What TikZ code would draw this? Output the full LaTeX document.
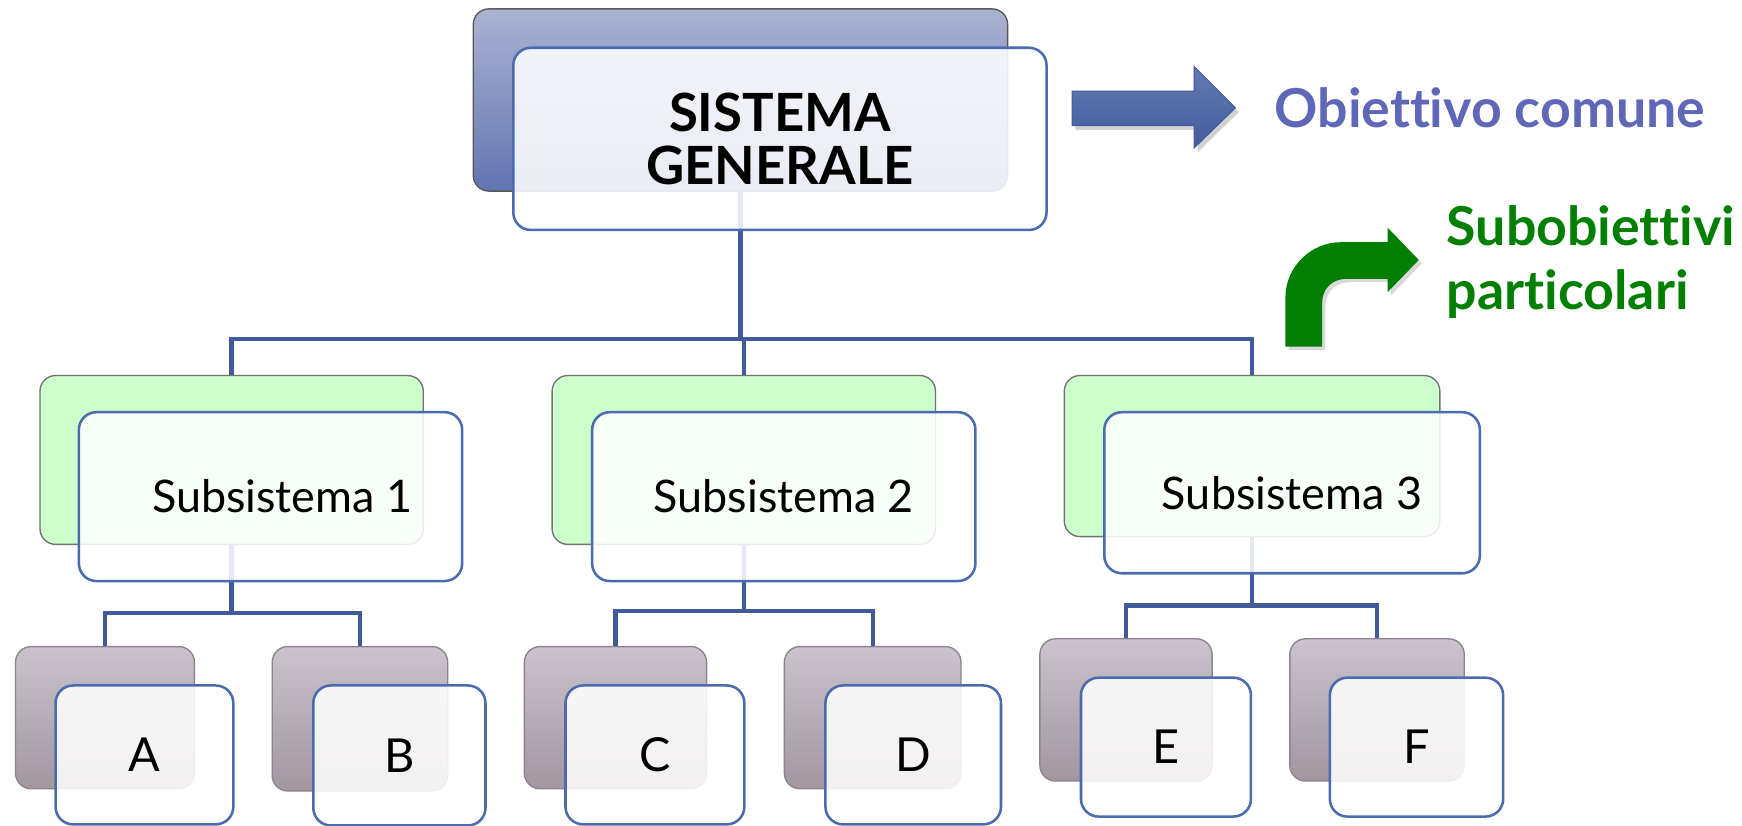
\documentclass[tikz,border=0pt]{standalone}
\usepackage{fontspec}
\setmainfont{Lato}[Ligatures=CommonOff]
\usetikzlibrary{shadows,calc}
\definecolor{connC}{HTML}{3F5B9B}
\definecolor{frontC}{HTML}{4A6BB0}
\definecolor{topA}{HTML}{ABB3D1}
\definecolor{topB}{HTML}{6373B2}
\definecolor{leafA}{HTML}{CAC3CC}
\definecolor{leafB}{HTML}{A2969F}
\definecolor{leafD}{HTML}{8E8293}
\definecolor{subG}{HTML}{CCFFCC}
\definecolor{objC}{HTML}{5F68B8}
\definecolor{greenC}{HTML}{007F00}
\definecolor{arrA}{HTML}{6479B4}
\definecolor{arrB}{HTML}{435C9C}
\begin{document}
\begin{tikzpicture}[x=0.02cm,y=-0.02cm,
  conn/.style={draw=connC,line width=2.2pt},
  backbox/.style={rounded corners=8pt,inner sep=0pt,line width=0.7pt},
  topback/.style={backbox,draw=black!65,top color=topA,bottom color=topB},
  subback/.style={backbox,draw=black!55,fill=subG},
  leafback/.style={backbox,draw=leafD,top color=leafA,bottom color=leafB},
  frontbox/.style={rounded corners=9pt,inner sep=0pt,draw=frontC,line width=1.3pt,fill=white,fill opacity=0.87,text opacity=1},
  sublabel/.style={font=\fontsize{23}{27}\selectfont},
  leaflabel/.style={font=\fontsize{24}{28}\selectfont}]
\useasboundingbox (0,0) rectangle (1568,743);

% back boxes
\node[topback,minimum width={481*0.02cm},minimum height={164*0.02cm}] (tB) at (666.5,90) {};
\node[subback,minimum width={345*0.02cm},minimum height={152*0.02cm}] (s1B) at (208.5,414) {};
\node[subback,minimum width={345*0.02cm},minimum height={152*0.02cm}] (s2B) at (669.5,414) {};
\node[subback,minimum width={338*0.02cm},minimum height={145*0.02cm}] (s3B) at (1127,410.5) {};
\node[leafback,minimum width={161*0.02cm},minimum height={128*0.02cm}] (aB) at (94.5,646) {};
\node[leafback,minimum width={158*0.02cm},minimum height={130*0.02cm}] (bB) at (324,647) {};
\node[leafback,minimum width={164*0.02cm},minimum height={128*0.02cm}] (cB) at (554,646) {};
\node[leafback,minimum width={159*0.02cm},minimum height={128*0.02cm}] (dB) at (785.5,646) {};
\node[leafback,minimum width={155*0.02cm},minimum height={128*0.02cm}] (eB) at (1013.5,639) {};
\node[leafback,minimum width={157*0.02cm},minimum height={128*0.02cm}] (fB) at (1239.5,639) {};

% connectors
\coordinate (bus0) at (666.5,305);
\coordinate (bus1) at (208.5,552);
\coordinate (bus2) at (669.5,550);
\coordinate (bus3) at (1127,545);
\draw[conn] (tB.south) -- (bus0);
\draw[conn] (s1B.north) |- (bus0) -| (s3B.north);
\draw[conn] (s2B.north) -- (s2B.north |- bus0);
\draw[conn] (s1B.south) -- (bus1);
\draw[conn] (aB.north) |- (bus1) -| (bB.north);
\draw[conn] (s2B.south) -- (bus2);
\draw[conn] (cB.north) |- (bus2) -| (dB.north);
\draw[conn] (s3B.south) -- (bus3);
\draw[conn] (eB.north) |- (bus3) -| (fB.north);

% front boxes
\node[frontbox,minimum width={480*0.02cm},minimum height={164*0.02cm},align=center,
      font=\fontsize{27}{27}\selectfont\bfseries] (tF) at (702,125) {SISTEMA\\GENERALE};
\node[frontbox,minimum width={345*0.02cm},minimum height={152*0.02cm}] (s1F) at (243.5,447) {};
\node[sublabel] (s1T) at (254,447) {Subsistema 1};
\node[frontbox,sublabel,minimum width={345*0.02cm},minimum height={152*0.02cm}] (s2F) at (705.5,447) {Subsistema 2};
\node[frontbox,sublabel,minimum width={338*0.02cm},minimum height={145*0.02cm}] (s3F) at (1163,443.5) {Subsistema 3};
\node[frontbox,leaflabel,minimum width={160*0.02cm},minimum height={125*0.02cm}] (aF) at (130,679.5) {A};
\node[frontbox,leaflabel,minimum width={155*0.02cm},minimum height={126*0.02cm}] (bF) at (359.5,680) {B};
\node[frontbox,leaflabel,minimum width={161*0.02cm},minimum height={125*0.02cm}] (cF) at (589.5,679.5) {C};
\node[frontbox,leaflabel,minimum width={158*0.02cm},minimum height={125*0.02cm}] (dF) at (822,679.5) {D};
\node[frontbox,leaflabel,minimum width={153*0.02cm},minimum height={125*0.02cm}] (eF) at (1049.5,672.5) {E};
\node[frontbox,leaflabel,minimum width={156*0.02cm},minimum height={125*0.02cm}] (fF) at (1275,672.5) {F};

% blue arrow
\fill[black,opacity=0.18] (968,86) -- (1078,86) -- (1078,64) -- (1115,101) -- (1078,137) -- (1078,117) -- (968,117) -- cycle;
\draw[draw=arrB,line width=0.6pt,top color=arrA,bottom color=arrB]
  (965,82) -- (1075,82) -- (1075,60) -- (1112,97) -- (1075,133) -- (1075,113) -- (965,113) -- cycle;
\node[anchor=west,text=objC,font=\fontsize{27.5}{30}\selectfont\bfseries] (obj) at (1141,97) {Obiettivo comune};

% green bent arrow
\fill[black,opacity=0.15] (1160,315) -- (1160,271) .. controls (1160,243) and (1183,221) .. (1210,221) -- (1252,221) -- (1252,208) -- (1280,237) -- (1252,266) -- (1252,254) -- (1215,254) .. controls (1202,254) and (1193,263) .. (1193,276) -- (1193,315) -- cycle;
\fill[greenC] (1157,312) -- (1157,268) .. controls (1157,240) and (1180,218) .. (1207,218) -- (1249,218) -- (1249,205) -- (1277,234) -- (1249,263) -- (1249,251) -- (1212,251) .. controls (1199,251) and (1190,260) .. (1190,273) -- (1190,312) -- cycle;
\node[anchor=west,align=left,text=greenC,font=\fontsize{27.5}{33}\selectfont\bfseries] (sub) at (1296,236) {Subobiettivi\\particolari};
\end{tikzpicture}
\end{document}
